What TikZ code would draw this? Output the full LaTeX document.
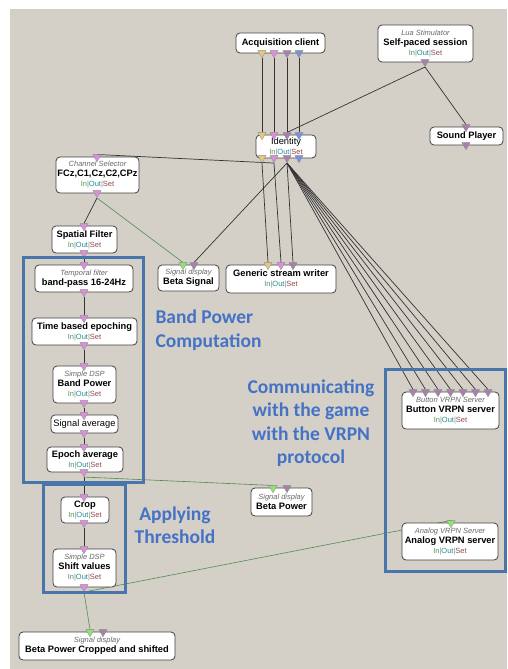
\documentclass[tikz,border=0pt]{standalone}
\usepackage{fontspec}
\setmainfont{Liberation Sans}
\newfontfamily\calibfont{Carlito}
\usetikzlibrary{shapes.geometric, backgrounds}

\definecolor{canvas}{RGB}{212,208,200}
\definecolor{yellowpin}{RGB}{232,200,120}
\definecolor{pinkpin}{RGB}{222,140,222}
\definecolor{purplepin}{RGB}{168,128,170}
\definecolor{bluepin}{RGB}{120,146,226}
\definecolor{greenpin}{RGB}{146,226,110}
\definecolor{groupblue}{RGB}{72,118,170}
\definecolor{labelblue}{RGB}{68,114,196}
\definecolor{titlegray}{RGB}{105,105,105}
\definecolor{inclr}{RGB}{80,150,80}
\definecolor{outclr}{RGB}{40,140,140}
\definecolor{setclr}{RGB}{150,70,70}
\definecolor{barclr}{RGB}{120,140,170}
\definecolor{linkgreen}{RGB}{80,140,80}

\newcommand{\ios}{{\fontsize{7.5}{8}\selectfont\color{inclr}In\color{barclr}|\color{outclr}Out\color{barclr}|\color{setclr}Set}}
\newcommand{\boxtitle}[1]{{\fontsize{7.5}{8}\selectfont\itshape\color{titlegray}#1}}
\newcommand{\boxname}[1]{{\bfseries #1}}

\begin{document}
\begin{tikzpicture}[x=1pt, y=-1pt,
	box/.style={draw=black!75, fill=white, rounded corners=4pt, line width=0.8pt, inner sep=0pt, align=center, font=\fontsize{9.3}{10}\selectfont},
	pin/.style={regular polygon, regular polygon sides=3, shape border rotate=180, minimum size=9.5pt, inner sep=0pt, draw=black!45, line width=0.3pt},
	link/.style={draw=black!80, line width=0.7pt},
	sigline/.style={draw=linkgreen, line width=0.6pt},
	group/.style={draw=groupblue, line width=3pt},
	note/.style={font=\calibfont\bfseries\fontsize{19.5}{23.5}\selectfont, text=labelblue, align=center}]
		\useasboundingbox (0,0) rectangle (507,669);
		\begin{scope}[on background layer]
		\fill[canvas] (10,9) rectangle (507,669);
		\end{scope}
		
		% boxes
		\node[box, minimum width=89, minimum height=20] (acq) at (280.5,43) {\boxname{Acquisition client}};
		\node[box, minimum width=95, minimum height=37] (lua) at (425.5,43.5) {\boxtitle{Lua Stimulator}\\\boxname{Self-paced session}\\\ios};
		\node[box, minimum width=73, minimum height=18] (sound) at (466.5,136) {\boxname{Sound Player}};
		\node[box, minimum width=60, minimum height=23] (ident) at (286,146.5) {Identity\\\ios};
		\node[box, minimum width=83, minimum height=36] (chsel) at (97.5,175) {\boxtitle{Channel Selector}\\\boxname{FCz,C1,Cz,C2,CPz}\\\ios};
		\node[box, minimum width=65, minimum height=27] (spat) at (84.5,239.5) {\boxname{Spatial Filter}\\\ios};
		\node[box, minimum width=98, minimum height=27] (temp) at (84,278.5) {\boxtitle{Temporal filter}\\\boxname{band-pass 16-24Hz}};
		\node[box, minimum width=105, minimum height=27] (epoch) at (84.5,331.5) {\boxname{Time based epoching}\\\ios};
		\node[box, minimum width=63, minimum height=37] (bpow) at (84.5,384.5) {\boxtitle{Simple DSP}\\\boxname{Band Power}\\\ios};
		\node[box, minimum width=67, minimum height=18] (savg) at (84.5,424) {Signal average};
		\node[box, minimum width=76, minimum height=25] (eavg) at (85,459.5) {\boxname{Epoch average}\\\ios};
		\node[box, minimum width=48, minimum height=26] (crop) at (85,510) {\boxname{Crop}\\\ios};
		\node[box, minimum width=63, minimum height=38] (shift) at (84.5,568) {\boxtitle{Simple DSP}\\\boxname{Shift values}\\\ios};
		\node[box, minimum width=61, minimum height=26] (bsig) at (188.5,278) {\boxtitle{Signal display}\\\boxname{Beta Signal}};
		\node[box, minimum width=110, minimum height=28] (gsw) at (281,279) {\boxname{Generic stream writer}\\\ios};
		\node[box, minimum width=61, minimum height=28] (bpowd) at (281.5,502) {\boxtitle{Signal display}\\\boxname{Beta Power}};
		\node[box, minimum width=156, minimum height=28] (bcrop) at (97,646) {\boxtitle{Signal display}\\\boxname{Beta Power Cropped and shifted}};
		\node[box, minimum width=97, minimum height=37] (button) at (450.5,410.5) {\boxtitle{Button VRPN Server}\\\boxname{Button VRPN server}\\\ios};
		\node[box, minimum width=96, minimum height=37] (analog) at (450,541.5) {\boxtitle{Analog VRPN Server}\\\boxname{Analog VRPN server}\\\ios};
		
		% pins
		\node[pin, fill=yellowpin] (acqo1) at (262,53) {};
		\node[pin, fill=pinkpin] (acqo2) at (274,53) {};
		\node[pin, fill=purplepin] (acqo3) at (287,53) {};
		\node[pin, fill=bluepin] (acqo4) at (299,53) {};
		\node[pin, fill=purplepin] (luao) at (425,62) {};
		\node[pin, fill=purplepin] (sndi) at (466,127) {};
		\node[pin, fill=purplepin] (sndo) at (466,145) {};
		\node[pin, fill=yellowpin] (idi1) at (262,135) {};
		\node[pin, fill=pinkpin] (idi2) at (274,135) {};
		\node[pin, fill=purplepin] (idi3) at (287,135) {};
		\node[pin, fill=bluepin] (idi4) at (299,135) {};
		\node[pin, fill=yellowpin] (ido1) at (262,158) {};
		\node[pin, fill=pinkpin] (ido2) at (274,158) {};
		\node[pin, fill=purplepin] (ido3) at (287,158) {};
		\node[pin, fill=bluepin] (ido4) at (299,158) {};
		\node[pin, fill=pinkpin] (chsi) at (97,157) {};
		\node[pin, fill=pinkpin] (chso) at (97,193) {};
		\node[pin, fill=pinkpin] (spai) at (84,226) {};
		\node[pin, fill=pinkpin] (spao) at (84,253) {};
		\node[pin, fill=pinkpin] (tmpi) at (84,265) {};
		\node[pin, fill=pinkpin] (tmpo) at (84,292) {};
		\node[pin, fill=pinkpin] (epi) at (84,318) {};
		\node[pin, fill=pinkpin] (epo) at (84,345) {};
		\node[pin, fill=pinkpin] (bpi) at (84,366) {};
		\node[pin, fill=pinkpin] (bpo) at (84,403) {};
		\node[pin, fill=pinkpin] (sai) at (84,415) {};
		\node[pin, fill=pinkpin] (sao) at (84,433) {};
		\node[pin, fill=pinkpin] (eai) at (84,447) {};
		\node[pin, fill=pinkpin] (eao) at (84,472) {};
		\node[pin, fill=pinkpin] (cri) at (84,497) {};
		\node[pin, fill=pinkpin] (cro) at (84,523) {};
		\node[pin, fill=pinkpin] (shi) at (84,549) {};
		\node[pin, fill=pinkpin] (sho) at (84,587) {};
		\node[pin, fill=greenpin] (bsi1) at (183,265) {};
		\node[pin, fill=purplepin] (bsi2) at (194,265) {};
		\node[pin, fill=yellowpin] (gwi1) at (268,265) {};
		\node[pin, fill=pinkpin] (gwi2) at (281,265) {};
		\node[pin, fill=purplepin] (gwi3) at (293,265) {};
		\node[pin, fill=greenpin] (bpdi1) at (273,488) {};
		\node[pin, fill=purplepin] (bpdi2) at (287,488) {};
		\node[pin, fill=greenpin] (bcri1) at (90,632) {};
		\node[pin, fill=purplepin] (bcri2) at (103,632) {};
		\node[pin, fill=purplepin] (bti1) at (413,392) {};
		\node[pin, fill=purplepin] (bti2) at (425.5,392) {};
		\node[pin, fill=purplepin] (bti3) at (438,392) {};
		\node[pin, fill=purplepin] (bti4) at (450.5,392) {};
		\node[pin, fill=purplepin] (bti5) at (463,392) {};
		\node[pin, fill=purplepin] (bti6) at (475.5,392) {};
		\node[pin, fill=purplepin] (bti7) at (488,392) {};
		\node[pin, fill=greenpin] (ani) at (451,523) {};
		
		% links
		\begin{scope}[on background layer]
		\draw[link] (acqo1.corner 1) -- (idi1.side 2);
		\draw[link] (acqo2.corner 1) -- (idi2.side 2);
		\draw[link] (acqo3.corner 1) -- (idi3.side 2);
		\draw[link] (acqo4.corner 1) -- (idi4.side 2);
		\draw[link] (luao.corner 1) -- (idi3.side 2);
		\draw[link] (luao.corner 1) -- (sndi.side 2);
		\draw[link] (ido2.corner 1) -- (chsi.side 2);
		\draw[link] (ido1.corner 1) -- (gwi1.side 2);
		\draw[link] (ido2.corner 1) -- (gwi2.side 2);
		\draw[link] (ido3.corner 1) -- (gwi3.side 2);
		\draw[link] (ido3.corner 1) -- (bsi2.side 2);
		\draw[link] (ido3.corner 1) -- (bti1.side 2);
		\draw[link] (ido3.corner 1) -- (bti2.side 2);
		\draw[link] (ido3.corner 1) -- (bti3.side 2);
		\draw[link] (ido3.corner 1) -- (bti4.side 2);
		\draw[link] (ido3.corner 1) -- (bti5.side 2);
		\draw[link] (ido3.corner 1) -- (bti6.side 2);
		\draw[link] (ido3.corner 1) -- (bti7.side 2);
		\draw[link] (chso.corner 1) -- (spai.side 2);
		\draw[sigline] (chso.corner 1) -- (bsi1.side 2);
		\draw[link] (spao.corner 1) -- (tmpi.side 2);
		\draw[link] (tmpo.corner 1) -- (epi.side 2);
		\draw[link] (epo.corner 1) -- (bpi.side 2);
		\draw[link] (bpo.corner 1) -- (sai.side 2);
		\draw[link] (sao.corner 1) -- (eai.side 2);
		\draw[link] (eao.corner 1) -- (cri.side 2);
		\draw[sigline] (eao.corner 1) -- (bpdi1.side 2);
		\draw[link] (cro.corner 1) -- (shi.side 2);
		\draw[sigline] (sho.corner 1) -- (bcri1.side 2);
		\draw[sigline] (sho.corner 1) -- (ani.side 2);
		\end{scope}
		
		% groups
		\draw[group] (23,257) rectangle (143,482);
		\draw[group] (43,484) rectangle (125,592);
		\draw[group] (385,369) rectangle (505,571);
		
		\node[note, align=left, anchor=west] (bpnote) at (152,330) {Band Power\\Computation};
		\node[note] (vrpnnote) at (311,423) {Communicating\\with the game\\with the VRPN\\protocol};
		\node[note] (thrnote) at (175,525) {Applying\\Threshold};
		
		\end{tikzpicture}
\end{document}
